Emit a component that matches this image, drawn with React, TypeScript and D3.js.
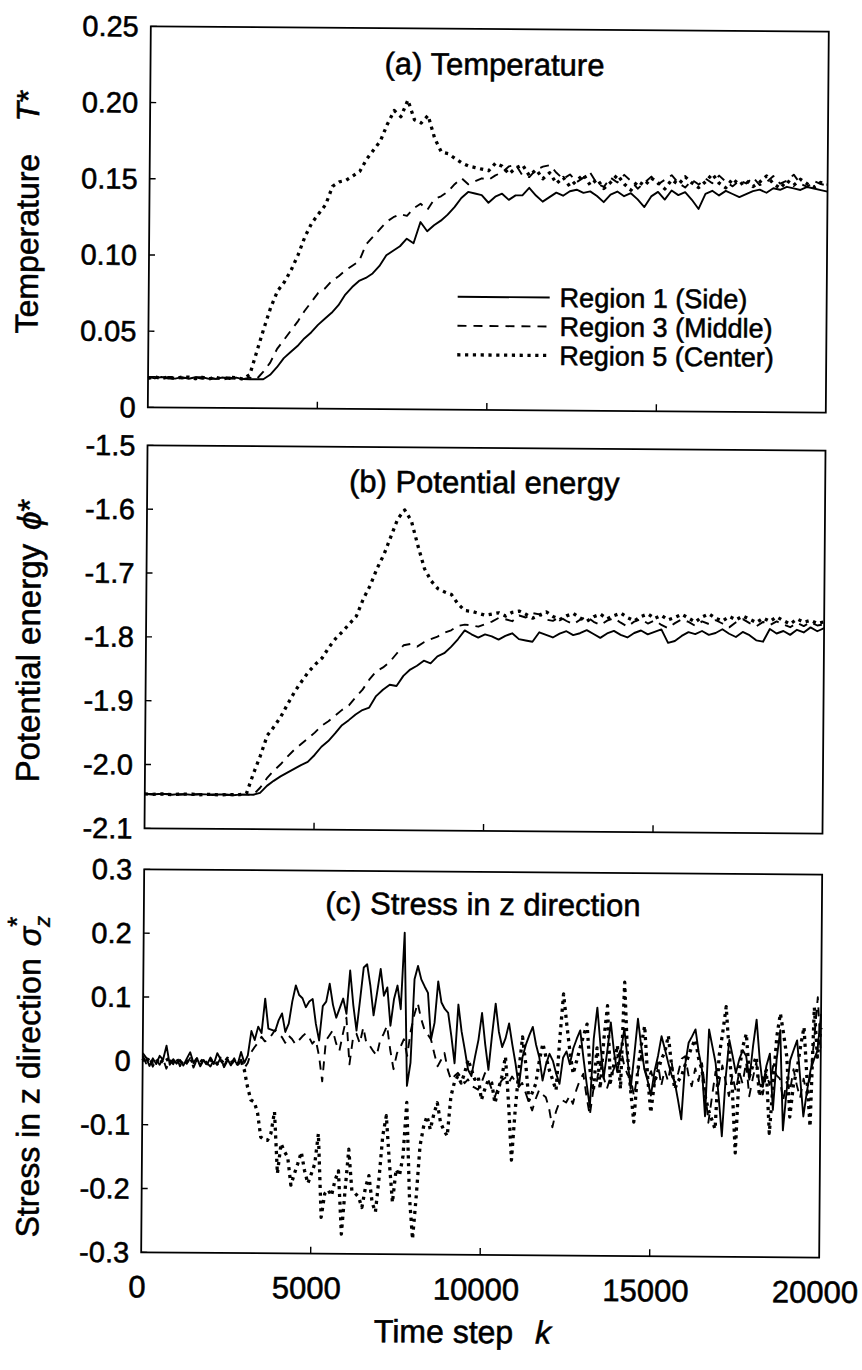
import React from 'react';
import * as d3 from 'd3';

// ---------- data (k = index * step) ----------
const STEP_AB = 200;
const STEP_C = 100;

const tempRegion1 = [
  0.020,0.019,0.020,0.019,0.019,0.020,0.019,0.020,0.020,0.019,
  0.019,0.020,0.019,0.020,0.019,0.019,0.019,0.019,0.022,0.027,
  0.033,0.037,0.041,0.046,0.050,0.055,0.059,0.063,0.068,0.075,
  0.080,0.084,0.086,0.089,0.094,0.101,0.104,0.107,0.112,0.109,
  0.123,0.117,0.121,0.124,0.128,0.133,0.139,0.143,0.142,0.141,
  0.136,0.140,0.142,0.138,0.141,0.141,0.146,0.141,0.137,0.140,
  0.143,0.141,0.144,0.145,0.143,0.144,0.141,0.137,0.142,0.144,
  0.141,0.143,0.139,0.134,0.141,0.144,0.139,0.145,0.142,0.144,
  0.139,0.133,0.143,0.145,0.142,0.145,0.143,0.141,0.143,0.145,
  0.146,0.144,0.147,0.146,0.148,0.147,0.146,0.148,0.147,0.146,
  0.145];
const tempRegion3 = [
  0.020,0.020,0.019,0.020,0.020,0.019,0.020,0.020,0.019,0.020,
  0.019,0.020,0.020,0.019,0.019,0.020,0.019,0.024,0.030,0.039,
  0.045,0.051,0.057,0.064,0.070,0.076,0.079,0.084,0.087,0.091,
  0.094,0.097,0.108,0.113,0.118,0.123,0.126,0.128,0.127,0.132,
  0.135,0.131,0.138,0.140,0.143,0.148,0.152,0.148,0.150,0.152,
  0.151,0.154,0.156,0.160,0.161,0.154,0.153,0.158,0.160,0.161,
  0.156,0.152,0.155,0.150,0.153,0.156,0.149,0.147,0.153,0.150,
  0.155,0.151,0.146,0.150,0.154,0.149,0.152,0.155,0.150,0.147,
  0.152,0.149,0.153,0.150,0.155,0.151,0.148,0.152,0.150,0.154,
  0.149,0.151,0.155,0.150,0.152,0.156,0.150,0.148,0.152,0.150,
  0.149];
const tempRegion5 = [
  0.019,0.020,0.019,0.020,0.019,0.020,0.020,0.019,0.020,0.019,
  0.020,0.019,0.020,0.020,0.019,0.022,0.037,0.052,0.066,0.077,
  0.083,0.091,0.101,0.113,0.122,0.128,0.134,0.146,0.149,0.150,
  0.153,0.156,0.164,0.170,0.176,0.187,0.196,0.192,0.203,0.190,
  0.188,0.193,0.178,0.169,0.168,0.165,0.162,0.160,0.159,0.158,
  0.157,0.162,0.160,0.155,0.159,0.161,0.154,0.158,0.152,0.156,
  0.149,0.153,0.147,0.151,0.155,0.148,0.152,0.146,0.150,0.155,
  0.149,0.145,0.151,0.148,0.153,0.150,0.146,0.152,0.149,0.154,
  0.150,0.147,0.151,0.156,0.150,0.147,0.153,0.149,0.152,0.148,
  0.151,0.155,0.150,0.147,0.152,0.149,0.153,0.150,0.148,0.151,
  0.150];

const peRegion1 = [
  -2.046,-2.047,-2.046,-2.046,-2.047,-2.046,-2.046,-2.047,-2.046,-2.046,
  -2.047,-2.046,-2.046,-2.047,-2.046,-2.046,-2.046,-2.043,-2.032,-2.024,
  -2.017,-2.011,-2.005,-1.999,-1.994,-1.983,-1.970,-1.961,-1.949,-1.936,
  -1.928,-1.919,-1.912,-1.908,-1.890,-1.880,-1.872,-1.874,-1.858,-1.848,
  -1.842,-1.834,-1.838,-1.827,-1.822,-1.812,-1.800,-1.786,-1.792,-1.797,
  -1.792,-1.795,-1.800,-1.794,-1.790,-1.799,-1.801,-1.803,-1.788,-1.792,
  -1.796,-1.790,-1.786,-1.792,-1.789,-1.784,-1.790,-1.796,-1.789,-1.785,
  -1.791,-1.795,-1.788,-1.784,-1.790,-1.786,-1.782,-1.803,-1.800,-1.792,
  -1.786,-1.789,-1.784,-1.790,-1.787,-1.781,-1.788,-1.793,-1.785,-1.790,
  -1.798,-1.800,-1.780,-1.787,-1.783,-1.789,-1.781,-1.785,-1.777,-1.783,
  -1.778];
const peRegion3 = [
  -2.046,-2.046,-2.047,-2.046,-2.046,-2.047,-2.046,-2.046,-2.046,-2.047,
  -2.046,-2.046,-2.047,-2.046,-2.046,-2.046,-2.046,-2.035,-2.020,-2.008,
  -1.998,-1.986,-1.975,-1.966,-1.957,-1.948,-1.937,-1.930,-1.921,-1.912,
  -1.905,-1.892,-1.880,-1.864,-1.851,-1.845,-1.836,-1.823,-1.810,-1.808,
  -1.812,-1.805,-1.800,-1.796,-1.790,-1.786,-1.779,-1.777,-1.778,-1.780,
  -1.776,-1.772,-1.766,-1.768,-1.771,-1.762,-1.765,-1.758,-1.760,-1.768,
  -1.770,-1.764,-1.770,-1.775,-1.768,-1.763,-1.771,-1.776,-1.769,-1.765,
  -1.772,-1.778,-1.770,-1.766,-1.773,-1.768,-1.775,-1.780,-1.772,-1.766,
  -1.770,-1.776,-1.769,-1.773,-1.767,-1.772,-1.778,-1.770,-1.765,-1.771,
  -1.776,-1.769,-1.774,-1.768,-1.773,-1.777,-1.770,-1.775,-1.769,-1.774,
  -1.772];
const peRegion5 = [
  -2.046,-2.047,-2.046,-2.046,-2.047,-2.046,-2.046,-2.046,-2.047,-2.046,
  -2.046,-2.047,-2.046,-2.046,-2.046,-2.044,-2.013,-1.985,-1.953,-1.939,
  -1.923,-1.903,-1.884,-1.868,-1.853,-1.841,-1.831,-1.814,-1.800,-1.789,
  -1.777,-1.765,-1.738,-1.717,-1.690,-1.668,-1.640,-1.612,-1.598,-1.615,
  -1.654,-1.690,-1.709,-1.721,-1.726,-1.730,-1.745,-1.755,-1.756,-1.759,
  -1.762,-1.760,-1.758,-1.763,-1.757,-1.755,-1.760,-1.766,-1.761,-1.756,
  -1.763,-1.768,-1.762,-1.758,-1.765,-1.770,-1.763,-1.759,-1.766,-1.761,
  -1.757,-1.764,-1.769,-1.762,-1.758,-1.765,-1.760,-1.767,-1.763,-1.758,
  -1.764,-1.770,-1.762,-1.757,-1.764,-1.768,-1.761,-1.766,-1.760,-1.765,
  -1.770,-1.763,-1.768,-1.761,-1.767,-1.772,-1.764,-1.769,-1.766,-1.771,
  -1.768];

const stressRegion1 = [
  0.012,0.005,-0.008,0.004,-0.005,0.008,0.002,0.024,-0.006,0.003,
  -0.004,0.002,-0.007,0.004,0.014,-0.003,0.005,-0.008,0.002,-0.005,
  0.006,-0.004,0.013,0.003,-0.007,0.004,-0.006,0.002,-0.005,0.015,
  -0.002,0.010,0.048,0.034,0.055,0.045,0.099,0.052,0.050,0.048,
  0.065,0.076,0.047,0.060,0.095,0.120,0.105,0.100,0.086,0.095,
  0.099,0.060,0.034,0.088,0.095,0.123,0.090,0.070,0.085,0.100,
  0.076,0.144,0.090,0.050,0.099,0.149,0.154,0.120,0.074,0.110,
  0.147,0.105,0.118,0.058,0.100,0.121,0.084,0.204,-0.036,0.000,
  0.131,0.152,0.131,0.120,0.110,0.037,0.063,0.128,0.095,0.085,
  0.079,0.042,0.000,0.092,0.050,0.021,-0.010,-0.020,0.010,0.037,
  0.079,0.030,-0.010,0.045,0.094,0.050,0.026,0.040,0.063,0.030,
  0.000,-0.036,0.010,0.030,0.045,0.058,0.030,0.010,-0.026,0.000,
  0.016,0.005,-0.015,-0.031,0.010,0.020,0.000,0.025,0.040,0.053,
  0.010,-0.030,-0.067,0.040,0.089,0.030,-0.022,0.020,0.066,0.020,
  -0.012,0.020,0.056,0.010,-0.038,0.015,0.072,0.030,-0.007,-0.025,
  -0.048,-0.010,0.014,0.045,0.025,0.004,-0.015,-0.027,-0.055,-0.085,
  0.000,0.035,0.045,0.056,0.020,-0.007,-0.080,0.056,0.030,0.004,
  -0.050,-0.111,-0.020,0.040,0.015,-0.012,0.010,0.024,0.015,-0.022,
  0.030,0.072,0.010,-0.033,0.000,0.019,-0.069,0.010,0.056,-0.101,
  -0.040,0.009,0.025,0.040,-0.020,-0.079,-0.040,-0.007,0.010,0.024,
  0.082];
const stressRegion3 = [
  0.008,-0.004,0.003,-0.009,0.002,-0.006,0.004,-0.012,0.002,-0.005,
  0.006,-0.008,0.001,-0.004,0.005,-0.010,0.003,-0.006,0.004,-0.003,
  -0.008,0.002,-0.005,0.006,-0.009,0.001,-0.004,0.005,-0.007,0.003,
  -0.010,-0.002,0.015,0.023,0.030,0.039,0.032,0.034,0.042,0.050,
  0.044,0.039,0.030,0.041,0.036,0.028,0.034,0.040,0.045,0.039,
  0.029,0.035,0.010,-0.030,0.034,0.042,0.050,0.030,0.018,0.045,
  0.070,-0.003,0.039,0.045,0.030,0.055,0.029,0.026,0.018,0.011,
  0.035,0.045,0.058,0.020,-0.010,0.015,0.025,0.037,0.011,0.050,
  0.075,0.094,0.070,0.053,0.045,0.037,0.015,-0.005,0.005,0.016,
  -0.010,-0.026,-0.020,-0.015,-0.022,-0.031,-0.025,-0.035,-0.038,-0.041,
  -0.030,-0.015,-0.025,-0.040,-0.052,-0.035,-0.026,-0.022,-0.030,-0.020,
  -0.028,-0.036,-0.030,-0.045,-0.060,-0.073,-0.055,-0.041,-0.048,-0.052,
  -0.070,-0.099,-0.075,-0.060,-0.057,-0.060,-0.050,-0.062,-0.040,-0.025,
  -0.015,-0.050,-0.080,-0.040,-0.026,0.004,-0.020,-0.038,-0.020,-0.007,
  0.010,0.024,0.000,-0.015,-0.022,-0.049,-0.015,0.014,-0.005,-0.022,
  -0.010,-0.030,0.004,-0.033,-0.008,-0.025,0.006,-0.030,-0.012,0.010,
  0.014,-0.015,-0.033,-0.005,-0.025,0.003,-0.040,-0.090,-0.050,-0.010,
  -0.030,0.000,-0.025,-0.048,-0.015,-0.040,-0.010,-0.028,0.005,-0.048,
  -0.020,0.005,-0.030,-0.045,-0.012,-0.030,0.000,-0.015,-0.020,-0.055,
  -0.025,-0.040,-0.005,-0.030,-0.050,-0.020,-0.045,-0.015,0.040,0.108,
  0.020];
const stressRegion5 = [
  0.004,-0.003,0.006,-0.002,0.003,-0.005,0.002,0.005,-0.004,0.001,
  0.004,-0.006,0.002,-0.001,0.005,-0.004,0.003,-0.002,0.004,-0.005,
  0.001,0.003,-0.004,0.002,-0.003,0.005,-0.002,0.001,-0.004,0.002,
  -0.013,-0.040,-0.060,-0.063,-0.080,-0.118,-0.122,-0.123,-0.112,-0.078,
  -0.175,-0.128,-0.140,-0.149,-0.193,-0.175,-0.159,-0.141,-0.170,-0.190,
  -0.175,-0.159,-0.112,-0.243,-0.206,-0.200,-0.209,-0.185,-0.170,-0.269,
  -0.200,-0.136,-0.201,-0.205,-0.211,-0.227,-0.196,-0.177,-0.219,-0.234,
  -0.180,-0.114,-0.083,-0.156,-0.219,-0.167,-0.177,-0.146,-0.062,-0.209,
  -0.276,-0.209,-0.130,-0.100,-0.083,-0.104,-0.080,-0.062,-0.093,-0.105,
  -0.114,-0.052,-0.030,-0.020,-0.031,-0.015,0.006,-0.010,-0.025,-0.020,
  -0.057,-0.040,-0.026,-0.030,-0.062,-0.040,-0.020,0.011,-0.060,-0.151,
  -0.072,-0.010,0.042,0.000,-0.057,-0.045,-0.031,0.005,0.032,0.010,
  -0.010,-0.025,-0.041,0.040,0.110,0.063,0.020,-0.015,0.005,0.026,
  0.045,0.063,-0.010,-0.041,0.026,-0.038,0.040,0.092,-0.028,0.000,
  0.030,-0.038,0.129,0.014,-0.040,-0.090,-0.012,0.030,0.061,-0.020,
  -0.075,-0.028,-0.010,0.009,0.020,0.046,0.000,-0.038,-0.025,-0.017,
  0.000,0.014,0.030,0.040,0.010,-0.007,-0.048,-0.070,-0.085,-0.100,
  0.014,0.050,0.092,0.020,-0.038,-0.137,-0.007,0.030,0.050,-0.017,
  0.000,0.014,-0.048,-0.020,-0.007,-0.106,-0.030,0.046,0.082,0.050,
  0.014,-0.080,-0.030,-0.007,0.030,0.061,-0.020,-0.095,0.092,0.014,
  0.060];

const xTicks = [0, 5000, 10000, 15000, 20000];
const xTickLabels = ['0', '5000', '10000', '15000', '20000'];
const tempTicks = [0, 0.05, 0.1, 0.15, 0.2, 0.25];
const tempTickLabels = ['0', '0.05', '0.10', '0.15', '0.20', '0.25'];
const peTicks = [-2.1, -2.0, -1.9, -1.8, -1.7, -1.6, -1.5];
const peTickLabels = ['-2.1', '-2.0', '-1.9', '-1.8', '-1.7', '-1.6', '-1.5'];
const stressTicks = [-0.3, -0.2, -0.1, 0, 0.1, 0.2, 0.3];
const stressTickLabels = ['-0.3', '-0.2', '-0.1', '0', '0.1', '0.2', '0.3'];
const seriesNames = ['Region 1 (Side)', 'Region 3 (Middle)', 'Region 5 (Center)'];

// ---------- layout / style ----------
const FONT = "'Liberation Sans', Arial, Helvetica, sans-serif";
const X0 = 146;
const X1 = 824;
const STYLES = [
  { dash: undefined as string | undefined, w: 1.9 },
  { dash: '9 7', w: 1.9 },
  { dash: '3.2 4.6', w: 3.3 },
];
const TXT = { fontFamily: FONT, stroke: '#000', strokeWidth: 0.55, fill: '#000' };

const xScale = d3.scaleLinear().domain([0, 20000]).range([X0, X1]);

type PanelProps = {
  top: number;
  bottom: number;
  domain: [number, number];
  ticks: number[];
  tickLabels: string[];
  series: number[][];
  step: number;
  title: string;
  titleX: number;
  titleY: number;
  showXLabels?: boolean;
};

function Panel(p: PanelProps) {
  const y = d3.scaleLinear().domain(p.domain).range([p.bottom, p.top]);
  const line = d3
    .line<number>()
    .x((_, i) => xScale(i * p.step))
    .y((d) => y(d));
  return (
    <g>
      {p.series.map((s, si) => (
        <path
          key={si}
          d={line(s) || ''}
          fill="none"
          stroke="#000"
          strokeWidth={STYLES[si].w}
          strokeDasharray={STYLES[si].dash}
          strokeLinejoin="round"
        />
      ))}
      <rect x={X0} y={p.top} width={X1 - X0} height={p.bottom - p.top} fill="none" stroke="#000" strokeWidth={1.8} />
      {p.ticks.map((t, i) => (
        <g key={'y' + i}>
          <line x1={X0} x2={X0 + 6} y1={y(t)} y2={y(t)} stroke="#000" strokeWidth={1.4} />
          <text x={X0 - 12} y={y(t)} dy="0.35em" textAnchor="end" fontSize={29} {...TXT}>
            {p.tickLabels[i]}
          </text>
        </g>
      ))}
      {xTicks.slice(1, -1).map((t, i) => (
        <line key={'x' + i} x1={xScale(t)} x2={xScale(t)} y1={p.bottom} y2={p.bottom - 7} stroke="#000" strokeWidth={1.4} />
      ))}
      {p.showXLabels &&
        xTicks.map((t, i) => (
          <text key={'xl' + i} x={xScale(t) - 4} y={p.bottom + 45} textAnchor="middle" fontSize={31} {...TXT}>
            {xTickLabels[i]}
          </text>
        ))}
      <text x={p.titleX} y={p.titleY} textAnchor="middle" fontSize={31} {...TXT}>
        {p.title}
      </text>
    </g>
  );
}

export default function App() {
  const legendY = [297, 326, 355];
  return (
    <svg
      width={862}
      height={1370}
      viewBox="0 0 862 1370"
      style={{ position: 'absolute', left: 0, top: 0, display: 'block', background: '#fff' }}
    >
      <rect x={0} y={0} width={862} height={1370} fill="#fff" />
      <g transform="rotate(0.45 485 640)">
        <Panel
          top={29}
          bottom={410}
          domain={[0, 0.25]}
          ticks={tempTicks}
          tickLabels={tempTickLabels}
          series={[tempRegion1, tempRegion3, tempRegion5]}
          step={STEP_AB}
          title="(a) Temperature"
          titleX={490}
          titleY={75}
        />
        <Panel
          top={448}
          bottom={831}
          domain={[-2.1, -1.5]}
          ticks={peTicks}
          tickLabels={peTickLabels}
          series={[peRegion1, peRegion3, peRegion5]}
          step={STEP_AB}
          title="(b) Potential energy"
          titleX={483}
          titleY={493}
        />
        <Panel
          top={872}
          bottom={1255}
          domain={[-0.3, 0.3]}
          ticks={stressTicks}
          tickLabels={stressTickLabels}
          series={[stressRegion1, stressRegion3, stressRegion5]}
          step={STEP_C}
          title="(c) Stress in z direction"
          titleX={485}
          titleY={915}
          showXLabels
        />
        {/* legend */}
        {seriesNames.map((n, i) => (
          <g key={n}>
            <line
              x1={455}
              x2={547}
              y1={legendY[i]}
              y2={legendY[i]}
              stroke="#000"
              strokeWidth={STYLES[i].w}
              strokeDasharray={STYLES[i].dash}
            />
            <text x={557} y={legendY[i] + 9.5} fontSize={27} {...TXT}>
              {n}
            </text>
          </g>
        ))}
        {/* y-axis labels */}
        <text transform="translate(35,337) rotate(-90)" fontSize={32} {...TXT}>
          Temperature
          <tspan dx={32} fontStyle="italic">T</tspan>
          <tspan>*</tspan>
        </text>
        <text transform="translate(40,786) rotate(-90)" fontSize={33} {...TXT}>
          Potential energy
          <tspan dx={14} fontStyle="italic">ϕ</tspan>
          <tspan>*</tspan>
        </text>
        <text transform="translate(43,1241) rotate(-90)" fontSize={32} {...TXT}>
          Stress in z direction
          <tspan dx={12} fontStyle="italic">σ</tspan>
          <tspan dy={9} fontSize={22} fontStyle="italic">z</tspan>
          <tspan dx={-11} dy={-24} fontSize={26}>*</tspan>
        </text>
        {/* x-axis label */}
        <text x={468} y={1343} textAnchor="middle" fontSize={32} {...TXT}>
          Time step
          <tspan dx={22} fontStyle="italic">k</tspan>
        </text>
      </g>
    </svg>
  );
}
